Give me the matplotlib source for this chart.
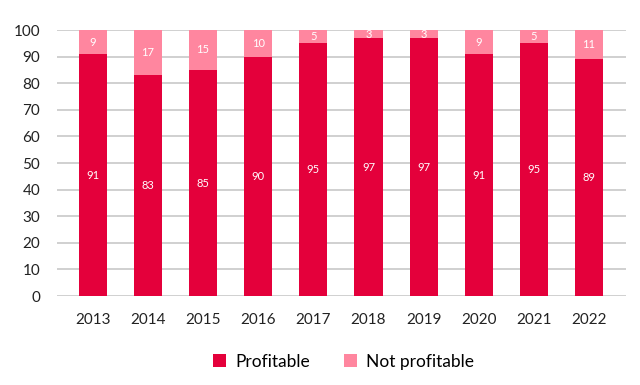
import matplotlib
matplotlib.use("Agg")
import matplotlib.pyplot as plt
import numpy as np

plt.rcParams['font.family'] = ['Lato', 'DejaVu Sans']

years = ['2013', '2014', '2015', '2016', '2017', '2018', '2019', '2020', '2021', '2022']
profitable = [91, 83, 85, 90, 95, 97, 97, 91, 95, 89]
not_profitable = [9, 17, 15, 10, 5, 3, 3, 9, 5, 11]

red = '#E4003B'
pink = '#FF869F'

fig = plt.figure(figsize=(6.4, 3.85), dpi=100)
ax = fig.add_axes([0.089, 0.231, 0.889, 0.691])

x = np.arange(len(years))
b1 = ax.bar(x, profitable, width=0.51, color=red, label='Profitable', zorder=3)
b2 = ax.bar(x, not_profitable, width=0.51, bottom=profitable, color=pink,
            label='Not profitable', zorder=3)

for i in range(len(years)):
    ax.text(x[i], profitable[i] / 2, str(profitable[i]), ha='center', va='center',
            color='white', fontsize=8, zorder=4)
    ax.text(x[i], profitable[i] + not_profitable[i] / 2, str(not_profitable[i]),
            ha='center', va='center', color='white', fontsize=8, zorder=4)

ax.set_xlim(-0.65, 9.67)
ax.set_ylim(0, 100)
ax.set_yticks(range(0, 101, 10))
ax.set_xticks(x)
ax.set_xticklabels(years)
ax.grid(axis='y', color='#c8c8c8', linewidth=1.2, zorder=0)
for s in ax.spines.values():
    s.set_visible(False)
ax.tick_params(length=0, labelsize=11, colors='#222222')
ax.tick_params(axis='x', pad=12)
ax.tick_params(axis='y', pad=12)

fig.legend(handles=[b1, b2], loc='center', bbox_to_anchor=(0.537, 0.06), ncol=2,
           frameon=False, fontsize=12.5, handlelength=0.75, handleheight=0.75,
           columnspacing=2.0, handletextpad=0.5)

fig.savefig('out.png', dpi=100)
